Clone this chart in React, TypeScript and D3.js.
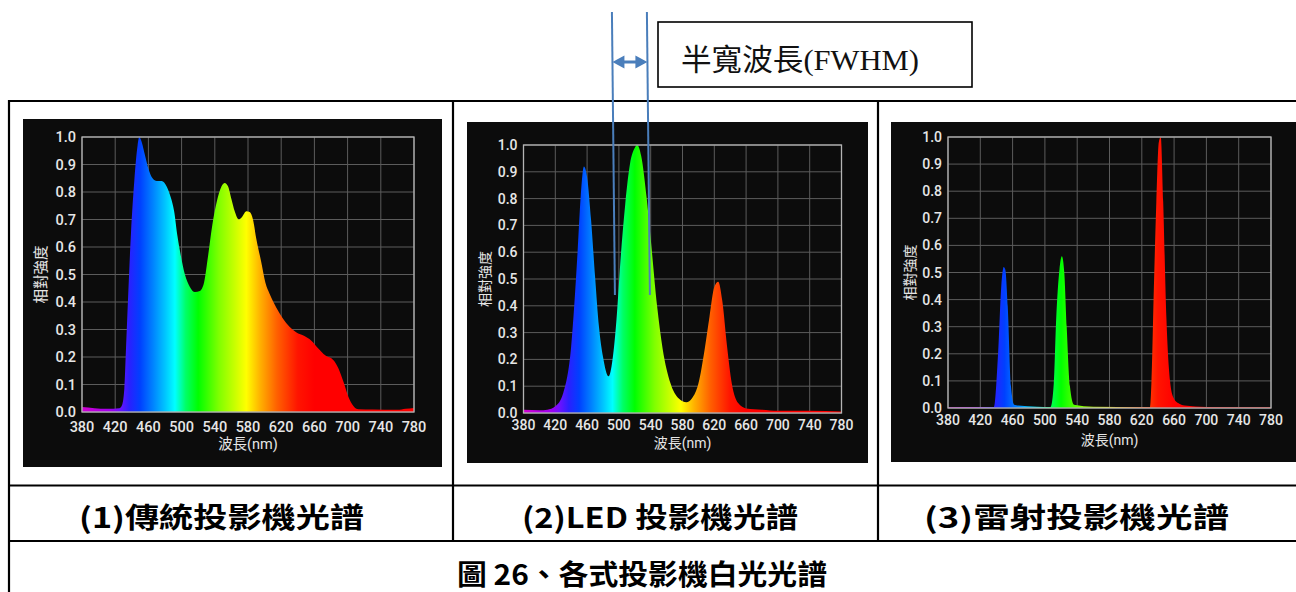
import React from "react";
import * as d3 from "d3";

// wavelength axis + intensity axis
const xTicks = [380, 420, 460, 500, 540, 580, 620, 660, 700, 740, 780];
const yTicks = [0, 0.1, 0.2, 0.3, 0.4, 0.5, 0.6, 0.7, 0.8, 0.9, 1.0];

// (1) traditional projector (lamp)
const tradWl = [380, 395, 410, 425, 428, 431, 433, 436, 439, 443, 447, 449, 451, 455, 460, 465, 470, 476, 482, 487, 491, 495, 499, 504, 510, 516, 522, 527, 532, 537, 542, 548, 552, 556, 560, 564, 569, 573, 578, 582, 586, 590, 596, 601, 606, 614, 622, 630, 638, 648, 656, 665, 673, 683, 689, 695, 701, 707, 713, 730, 760, 770, 780];
const tradVal = [0.018, 0.014, 0.012, 0.014, 0.024, 0.085, 0.23, 0.45, 0.65, 0.84, 0.97, 1.0, 0.99, 0.945, 0.885, 0.85, 0.84, 0.84, 0.82, 0.78, 0.73, 0.64, 0.57, 0.5, 0.455, 0.436, 0.44, 0.47, 0.57, 0.68, 0.76, 0.82, 0.833, 0.82, 0.775, 0.73, 0.7, 0.71, 0.73, 0.727, 0.7, 0.63, 0.545, 0.47, 0.43, 0.38, 0.34, 0.31, 0.29, 0.276, 0.26, 0.23, 0.206, 0.188, 0.158, 0.11, 0.055, 0.022, 0.01, 0.009, 0.008, 0.012, 0.015];

// (2) LED projector
const ledWl = [380, 400, 410, 420, 430, 440, 448, 452, 456, 460, 465, 470, 475, 480, 487, 492, 497, 502, 508, 514, 520, 523, 528, 535, 540, 548, 555, 565, 575, 585, 592, 600, 608, 614, 620, 625, 630, 636, 642, 650, 660, 680, 700, 740, 780];
const ledVal = [0.012, 0.01, 0.012, 0.025, 0.075, 0.25, 0.6, 0.81, 0.92, 0.88, 0.72, 0.51, 0.32, 0.21, 0.137, 0.2, 0.35, 0.57, 0.78, 0.93, 0.99, 1.0, 0.96, 0.8, 0.65, 0.4, 0.24, 0.11, 0.055, 0.04, 0.055, 0.11, 0.24, 0.36, 0.47, 0.49, 0.42, 0.25, 0.11, 0.037, 0.017, 0.012, 0.008, 0.008, 0.006];

// (3) laser projector
const laserWl = [380, 420, 437, 442, 446, 449, 451, 454, 458, 462, 467, 490, 507, 511, 514, 518, 521, 524, 527, 531, 536, 560, 620, 630, 632, 635, 638, 641, 643.5, 646.5, 650.5, 655, 659, 665, 673, 700, 780];
const laserVal = [0.003, 0.004, 0.004, 0.2, 0.45, 0.52, 0.51, 0.375, 0.08, 0.012, 0.009, 0.005, 0.004, 0.09, 0.33, 0.51, 0.56, 0.5, 0.3, 0.08, 0.012, 0.005, 0.004, 0.004, 0.1, 0.45, 0.76, 0.98, 1.0, 0.76, 0.33, 0.1, 0.04, 0.018, 0.009, 0.004, 0.003];

// FWHM marker on the LED chart
const fwhmBounds = [495, 539];
const fwhmLevel = 0.44;

// visible spectrum colouring
const specWl = [380, 415, 425, 437, 450, 465, 480, 492, 505, 520, 545, 565, 578, 595, 615, 640, 660, 780];
const specColors = ["#d000d0", "#a000f0", "#7010ff", "#2a20ff", "#0040ff", "#0080ff", "#00c4ff", "#00ffff", "#00ff66", "#00ff00", "#80ff00", "#ccff00", "#ffff00", "#ffb000", "#ff6000", "#ff1400", "#ff0000", "#ff0000"];

const captions = ["(1)傳統投影機光譜", "(2)LED 投影機光譜", "(3)雷射投影機光譜"];
const figTitle = "圖 26、各式投影機白光光譜";
const yTitle = "相對強度";
const xTitle = "波長(nm)";
const fwhmText = "半寬波長(FWHM)";

const sans = "Roboto, 'Noto Sans CJK TC', sans-serif";

function SpectrumChart(props) {
  const { id, frame, plot, wl, val, fs, yTitleX, xTickY, xTitleY } = props;
  const x = d3.scaleLinear().domain([380, 780]).range([plot.left, plot.right]);
  const y = d3.scaleLinear().domain([0, 1]).range([plot.bottom, plot.top]);
  const pts = wl.map((w, i) => [w, val[i]]);
  const area = d3.area()
    .x((d) => x(d[0]))
    .y0(y(0))
    .y1((d) => y(d[1]))
    .curve(d3.curveMonotoneX);
  return (
    <g>
      <defs>
        <linearGradient id={id} gradientUnits="userSpaceOnUse" x1={x(380)} x2={x(780)} y1={0} y2={0}>
          {specWl.map((w, i) => (
            <stop key={i} offset={(w - 380) / 400} stopColor={specColors[i]} />
          ))}
        </linearGradient>
      </defs>
      <rect x={frame.x} y={frame.y} width={frame.w} height={frame.h} fill="#0c0c0c" />
      {yTicks.map((t) => (
        <line key={"gy" + t} x1={plot.left} x2={plot.right} y1={y(t)} y2={y(t)} stroke="#5c5c5c" strokeWidth={1} />
      ))}
      {xTicks.map((t) => (
        <line key={"gx" + t} x1={x(t)} x2={x(t)} y1={plot.top} y2={plot.bottom} stroke="#5c5c5c" strokeWidth={1} />
      ))}
      <path d={area(pts)} fill={`url(#${id})`} />
      <rect x={plot.left} y={plot.top} width={plot.right - plot.left} height={plot.bottom - plot.top}
        fill="none" stroke="#b4b4b4" strokeWidth={1.3} />
      {yTicks.map((t) => (
        <text key={"ty" + t} x={plot.left - 6} y={y(t)} dy="0.36em" textAnchor="end"
          fontFamily={sans} fontSize={fs} fontWeight={500} fill="#e6e6e6">{t.toFixed(1)}</text>
      ))}
      {xTicks.map((t) => (
        <text key={"tx" + t} x={x(t)} y={xTickY} textAnchor="middle"
          fontFamily={sans} fontSize={fs} fontWeight={500} fill="#e6e6e6">{t}</text>
      ))}
      <text x={(plot.left + plot.right) / 2} y={xTitleY} textAnchor="middle"
        fontFamily={sans} fontSize={fs} fill="#e6e6e6">{xTitle}</text>
      <text transform={`translate(${yTitleX},${(plot.top + plot.bottom) / 2}) rotate(-90)`} textAnchor="middle"
        dy="0.35em" fontFamily={sans} fontSize={fs} fill="#e6e6e6">{yTitle}</text>
    </g>
  );
}

export default function App() {
  const ledPlot = { left: 523.5, right: 841.5, top: 145, bottom: 413 };
  const lx = d3.scaleLinear().domain([380, 780]).range([ledPlot.left, ledPlot.right]);
  const ly = d3.scaleLinear().domain([0, 1]).range([ledPlot.bottom, ledPlot.top]);
  const blue = "#4a7ebb";
  const ay = 62;
  const xa = lx(fwhmBounds[0]) - 2.5;
  const xb = lx(fwhmBounds[1]) - 2.5;
  const head = 12;
  const hh = 6.5;
  const arrow = `M${xa},${ay} L${xa + head},${ay - hh} L${xa + head},${ay - 1.5} L${xb - head},${ay - 1.5} L${xb - head},${ay - hh} L${xb},${ay} L${xb - head},${ay + hh} L${xb - head},${ay + 1.5} L${xa + head},${ay + 1.5} L${xa + head},${ay + hh} Z`;
  const cap = "'Noto Sans CJK TC', sans-serif";

  return (
    <svg width={1296} height={592} style={{ position: "absolute", left: 0, top: 0, background: "#fff" }}>
      {/* table rules */}
      <g stroke="#000" strokeWidth={2.2}>
        <line x1={8} x2={1296} y1={101} y2={101} />
        <line x1={9} x2={9} y1={100} y2={592} />
        <line x1={453} x2={453} y1={101} y2={541} />
        <line x1={878} x2={878} y1={101} y2={541} />
        <line x1={8} x2={1296} y1={485.5} y2={485.5} />
        <line x1={8} x2={1296} y1={541} y2={541} />
      </g>

      <SpectrumChart id="g1" frame={{ x: 23, y: 119, w: 419, h: 348 }}
        plot={{ left: 82, right: 414, top: 137, bottom: 412 }}
        wl={tradWl} val={tradVal} fs={14.5} yTitleX={41} xTickY={432} xTitleY={449} />
      <SpectrumChart id="g2" frame={{ x: 467, y: 122, w: 401, h: 341 }}
        plot={ledPlot}
        wl={ledWl} val={ledVal} fs={14} yTitleX={485} xTickY={430} xTitleY={448} />
      <SpectrumChart id="g3" frame={{ x: 891, y: 122, w: 405, h: 340 }}
        plot={{ left: 948, right: 1271, top: 137, bottom: 408 }}
        wl={laserWl} val={laserVal} fs={14} yTitleX={910} xTickY={425} xTitleY={445} />

      {/* FWHM annotation */}
      <g stroke={blue} strokeWidth={2}>
        {fwhmBounds.map((b, i) => (
          <line key={i} x1={lx(b) - 3} y1={12} x2={lx(b)} y2={ly(fwhmLevel)} />
        ))}
      </g>
      <path d={arrow} fill={blue} />
      <rect x={658} y={22} width={314} height={65} fill="#fff" stroke="#000" strokeWidth={1.6} />
      <text x={681} y={70} fontFamily="'Liberation Serif', 'Noto Sans CJK TC', serif" fontSize={30}
        textLength={238} lengthAdjust="spacingAndGlyphs" fill="#111">{fwhmText}</text>

      {/* captions */}
      {[
        { x: 79, w: 285 },
        { x: 522, w: 276 },
        { x: 924, w: 305 },
      ].map((c, i) => (
        <text key={i} x={c.x} y={528} fontFamily={cap} fontWeight={700} fontSize={28}
          textLength={c.w} lengthAdjust="spacingAndGlyphs" fill="#000">{captions[i]}</text>
      ))}
      <text x={457} y={585} fontFamily={cap} fontWeight={700} fontSize={28}
        textLength={370} lengthAdjust="spacingAndGlyphs" fill="#000">{figTitle}</text>
    </svg>
  );
}
